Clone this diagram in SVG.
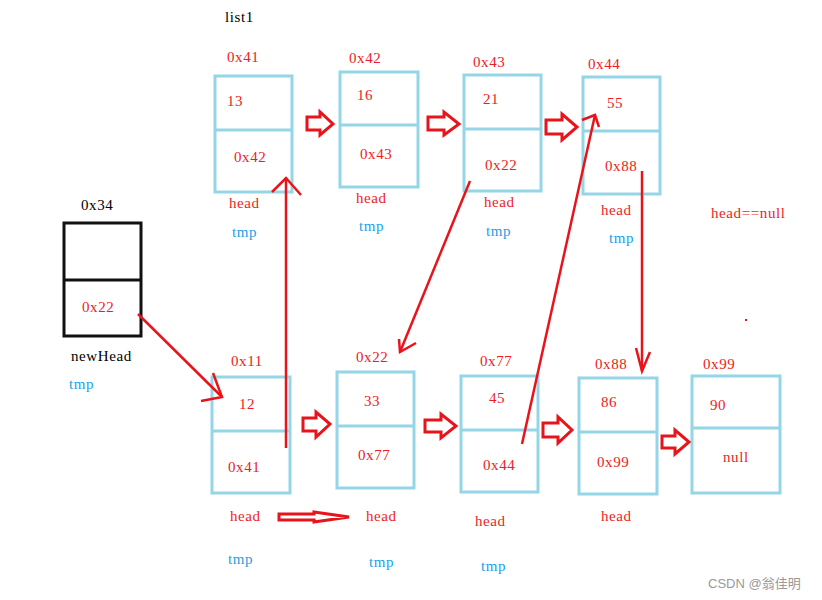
<svg xmlns="http://www.w3.org/2000/svg" width="822" height="600" viewBox="0 0 822 600">
<style>
.t,.k,.b{font-family:"Liberation Serif",serif;font-size:15px;letter-spacing:0.6px}
.t{fill:#ee1c24}
.k{fill:#000}
.b{fill:#1aa0e8}
.box{fill:none;stroke:#94d6e6;stroke-width:3}
.bbox{fill:none;stroke:#111;stroke-width:3}
.blk{fill:none;stroke:#e8141c;stroke-width:3;stroke-linejoin:miter}
.ln{fill:none;stroke:#e8141c;stroke-width:2.5}
.wm{font-family:"Liberation Sans","Noto Sans CJK SC",sans-serif;font-size:13px;fill:#999}
</style>
<rect width="822" height="600" fill="#fff"/>
<text class="k" x="225" y="22">list1</text>
<g id="n41"><rect class="box" x="215" y="76" width="77" height="116"/><line class="box" x1="215" y1="130" x2="292" y2="130"/><text class="t" x="227" y="62">0x41</text><text class="t" x="227" y="106">13</text><text class="t" x="234" y="162">0x42</text><text class="t" x="229" y="208">head</text><text class="b" x="232" y="237">tmp</text></g>
<g id="n42"><rect class="box" x="340" y="72" width="78" height="115"/><line class="box" x1="340" y1="125" x2="418" y2="125"/><text class="t" x="349" y="63">0x42</text><text class="t" x="357" y="100">16</text><text class="t" x="360" y="159">0x43</text><text class="t" x="356" y="203">head</text><text class="b" x="359" y="231">tmp</text></g>
<g id="n43"><rect class="box" x="464" y="75" width="77" height="116"/><line class="box" x1="464" y1="129" x2="541" y2="129"/><text class="t" x="473" y="67">0x43</text><text class="t" x="483" y="104">21</text><text class="t" x="485" y="170">0x22</text><text class="t" x="484" y="207">head</text><text class="b" x="486" y="236">tmp</text></g>
<g id="n44"><rect class="box" x="583" y="77" width="77" height="117"/><line class="box" x1="583" y1="131" x2="660" y2="131"/><text class="t" x="588" y="69">0x44</text><text class="t" x="607" y="108">55</text><text class="t" x="605" y="171">0x88</text><text class="t" x="601" y="215">head</text><text class="b" x="609" y="243">tmp</text></g>
<text class="t" x="711" y="218">head==null</text>
<g id="n34"><rect class="bbox" x="64" y="223" width="77" height="113"/><line class="bbox" x1="64" y1="280" x2="141" y2="280"/><text class="k" x="81" y="210">0x34</text><text class="t" x="82" y="312">0x22</text><text class="k" x="71" y="361">newHead</text><text class="b" x="69" y="389">tmp</text></g>
<g id="n11"><rect class="box" x="212" y="377" width="78" height="116"/><line class="box" x1="212" y1="431" x2="290" y2="431"/><text class="t" x="231" y="366">0x11</text><text class="t" x="239" y="409">12</text><text class="t" x="228" y="472">0x41</text><text class="t" x="230" y="521">head</text><text class="b" x="228" y="564">tmp</text></g>
<g id="n22"><rect class="box" x="337" y="372" width="77" height="116"/><line class="box" x1="337" y1="426" x2="414" y2="426"/><text class="t" x="356" y="362">0x22</text><text class="t" x="364" y="406">33</text><text class="t" x="358" y="460">0x77</text><text class="t" x="366" y="521">head</text><text class="b" x="369" y="567">tmp</text></g>
<g id="n77"><rect class="box" x="461" y="376" width="77" height="116"/><line class="box" x1="461" y1="430" x2="538" y2="430"/><text class="t" x="480" y="366">0x77</text><text class="t" x="489" y="403">45</text><text class="t" x="483" y="470">0x44</text><text class="t" x="475" y="526">head</text><text class="b" x="481" y="571">tmp</text></g>
<g id="n88"><rect class="box" x="579" y="378" width="78" height="116"/><line class="box" x1="579" y1="432" x2="657" y2="432"/><text class="t" x="595" y="369">0x88</text><text class="t" x="601" y="407">86</text><text class="t" x="597" y="467">0x99</text><text class="t" x="601" y="521">head</text></g>
<g id="n99"><rect class="box" x="692" y="376" width="88" height="117"/><line class="box" x1="692" y1="428" x2="780" y2="428"/><text class="t" x="703" y="369">0x99</text><text class="t" x="710" y="410">90</text><text class="t" x="723" y="462">null</text></g>
<g id="connectors">
<polygon class="blk" points="307,117 320,117 320,112 333,124 320,135 320,130 307,130"/>
<polygon class="blk" points="428,117 444,117 444,112 459,124 444,135 444,130 428,130"/>
<polygon class="blk" points="546,120 562,120 562,114 577,127 562,140 562,134 546,134"/>
<polygon class="blk" points="303,418 316,418 316,412 330,424 316,437 316,431 303,431"/>
<polygon class="blk" points="425,420 441,420 441,414 456,426 441,438 441,432 425,432"/>
<polygon class="blk" points="543,423 558,423 558,417 572,430 558,443 558,437 543,437"/>
<polygon class="blk" points="662,436 675,436 675,430 689,442 675,454 675,448 662,448"/>
<polygon class="blk" points="279,514 314,514 314,512 349,517 314,522 314,520 279,520"/>
<line class="ln" x1="286" y1="448" x2="286" y2="178"/><polyline class="ln" points="272,192 286,178 301,195"/>
<line class="ln" x1="470" y1="181" x2="400" y2="352"/><polyline class="ln" points="399,339 400,352 416,343"/>
<line class="ln" x1="138" y1="314" x2="222" y2="397"/><polyline class="ln" points="201,401 222,397 213,373"/>
<line class="ln" x1="522" y1="444" x2="595" y2="115"/><polyline class="ln" points="582,120 595,115 599,127"/>
<line class="ln" x1="642" y1="171" x2="642" y2="371"/><polyline class="ln" points="636,348 642,371 650,352"/>
</g>
<rect x="745" y="319" width="2" height="2" fill="#e8141c"/>
<text class="wm" x="708" y="588">CSDN @翁佳明</text>
</svg>
